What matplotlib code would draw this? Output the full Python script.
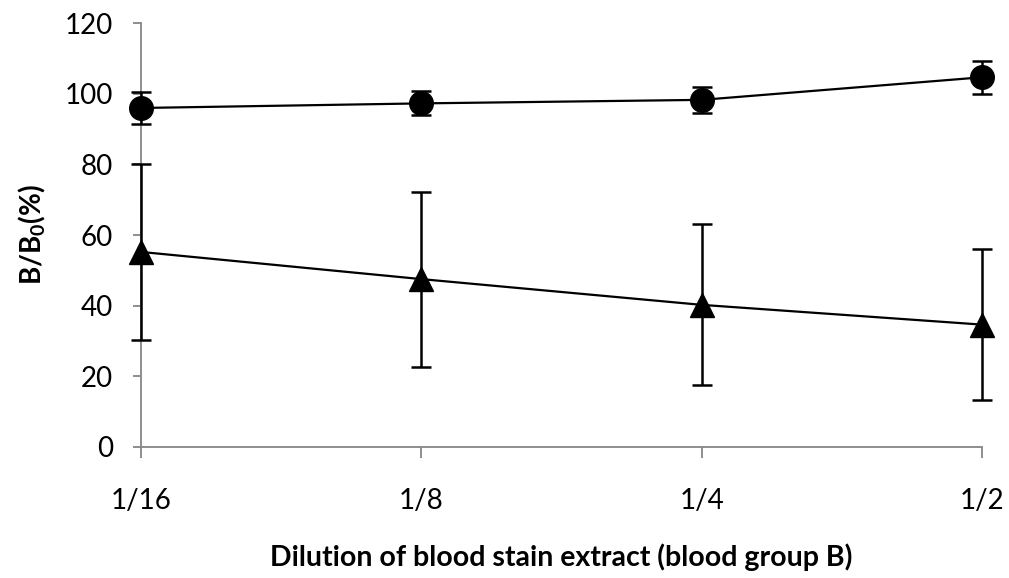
import matplotlib.pyplot as plt

# dilution levels (x categories)
dilutions = ["1/16", "1/8", "1/4", "1/2"]

# circle series: mean and error
circle_vals = [96.0, 97.3, 98.3, 104.7]
circle_err = [4.6, 3.4, 3.7, 4.7]

# triangle series: mean and error
tri_vals = [55.2, 47.5, 40.2, 34.6]
tri_err = [25.0, 24.8, 22.8, 21.5]

AXIS_GRAY = "#868686"

plt.rcParams['font.family'] = ['Lato', 'DejaVu Sans']

fig = plt.figure(figsize=(10.09, 5.78), dpi=100)
ax = fig.add_axes([141 / 1009, 1 - 446.7 / 578, (982 - 141) / 1009, (446.7 - 23.3) / 578])

x = list(range(len(dilutions)))

ax.errorbar(x, circle_vals, yerr=circle_err, fmt='-o', color='black',
            markersize=17, linewidth=1.6, elinewidth=1.8, capsize=7, capthick=1.8,
            clip_on=False, zorder=3)
ax.errorbar(x, tri_vals, yerr=tri_err, fmt='-^', color='black',
            markersize=17, linewidth=1.6, elinewidth=1.8, capsize=7, capthick=1.8,
            clip_on=False, zorder=3)

ax.set_xlim(0, len(dilutions) - 1)
ax.set_ylim(0, 120)
ax.set_yticks(range(0, 121, 20))
ax.set_xticks(x)
ax.set_xticklabels(dilutions)

for side in ['top', 'right']:
    ax.spines[side].set_visible(False)
for side in ['left', 'bottom']:
    ax.spines[side].set_color(AXIS_GRAY)
    ax.spines[side].set_linewidth(1.3)

ax.tick_params(axis='both', direction='out', color=AXIS_GRAY, width=1.3, labelsize=20)
ax.tick_params(axis='y', length=6, pad=14)
ax.tick_params(axis='x', length=8, pad=22)

ax.set_ylabel("B/B$_\\mathregular{0}$(%)", fontsize=20, fontweight='bold', labelpad=12)
ax.set_xlabel("Dilution of blood stain extract (blood group B)", fontsize=20.5,
              fontweight='bold', labelpad=21)

fig.savefig("out.png", dpi=100)
